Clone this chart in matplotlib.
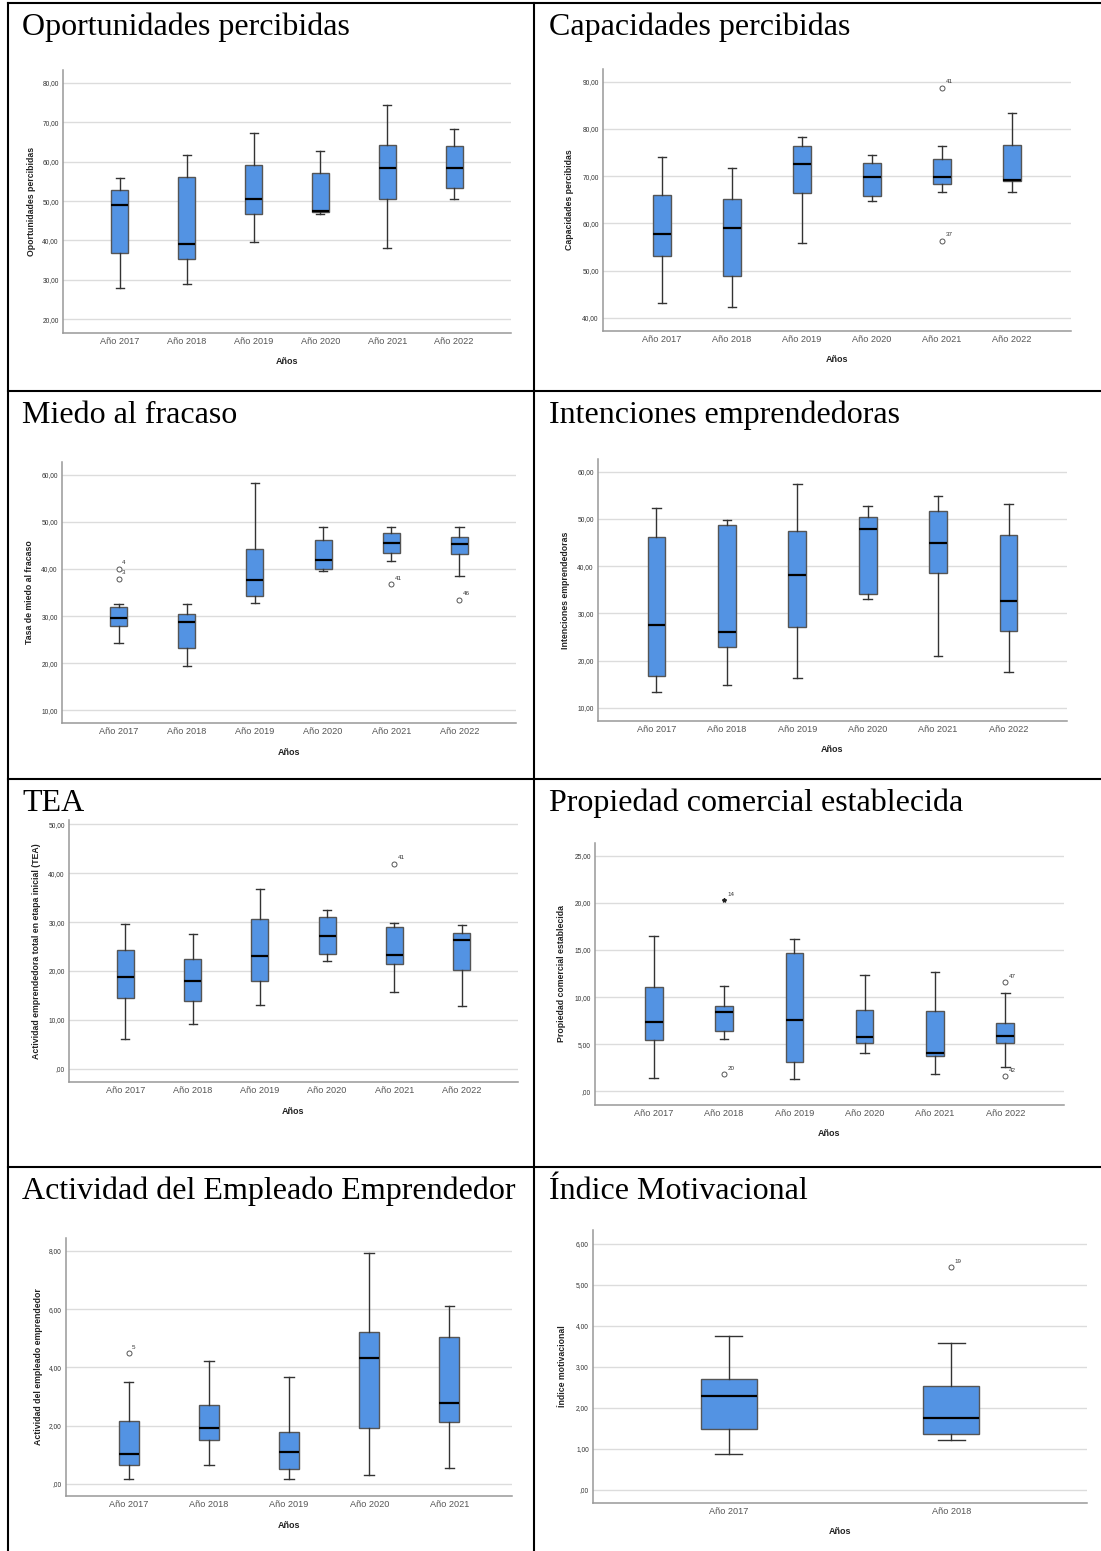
import numpy as np
import matplotlib
matplotlib.use("Agg")
import matplotlib.pyplot as plt
from matplotlib.ticker import FuncFormatter

plt.rcParams['font.family'] = ['Liberation Sans', 'DejaVu Sans']

W, H = 1101, 1551

years6 = ["Año 2017", "Año 2018", "Año 2019", "Año 2020", "Año 2021", "Año 2022"]
years5 = years6[:5]
years2 = years6[:2]

# Oportunidades percibidas
op_low = [28.0, 28.9, 39.5, 46.8, 38.1, 50.6]
op_q1 = [36.8, 35.2, 46.6, 47.2, 50.6, 53.4]
op_med = [48.9, 39.0, 50.6, 47.6, 58.5, 58.3]
op_q3 = [52.8, 56.0, 59.2, 57.2, 64.3, 64.1]
op_high = [55.8, 61.7, 67.3, 62.7, 74.5, 68.2]
op_out = []

# Capacidades percibidas
cap_low = [43.1, 42.2, 55.8, 64.8, 66.7, 66.6]
cap_q1 = [53.1, 48.8, 66.4, 65.7, 68.3, 68.9]
cap_med = [57.7, 59.0, 72.6, 69.8, 69.8, 69.2]
cap_q3 = [66.0, 65.1, 76.4, 72.7, 73.6, 76.6]
cap_high = [74.1, 71.8, 78.3, 74.4, 76.3, 83.3]
cap_out = [(5, 88.7, "41", "o"), (5, 56.3, "37", "o")]

# Miedo al fracaso
mie_low = [24.2, 19.4, 32.8, 39.6, 41.6, 38.6]
mie_q1 = [27.9, 23.2, 34.3, 40.0, 43.4, 43.2]
mie_med = [29.5, 28.7, 37.7, 41.9, 45.6, 45.3]
mie_q3 = [31.9, 30.5, 44.3, 46.2, 47.6, 46.7]
mie_high = [32.5, 32.6, 58.2, 48.9, 48.8, 49.0]
mie_out = [(1, 40.0, "4", "o"), (1, 37.9, "3", "o"), (5, 36.7, "41", "o"), (6, 33.5, "46", "o")]

# Intenciones emprendedoras
int_low = [13.3, 14.9, 16.3, 33.1, 20.9, 17.6]
int_q1 = [16.8, 22.9, 27.2, 34.0, 38.6, 26.3]
int_med = [27.5, 26.1, 38.1, 47.9, 44.9, 32.7]
int_q3 = [46.1, 48.7, 47.4, 50.5, 51.7, 46.5]
int_high = [52.4, 49.7, 57.5, 52.7, 54.8, 53.1]
int_out = []

# TEA
tea_low = [6.0, 9.2, 13.1, 22.0, 15.7, 12.9]
tea_q1 = [14.5, 13.9, 17.9, 23.4, 21.5, 20.1]
tea_med = [18.7, 17.9, 23.0, 27.2, 23.2, 26.3]
tea_q3 = [24.2, 22.4, 30.6, 31.1, 29.0, 27.8]
tea_high = [29.7, 27.6, 36.7, 32.4, 29.9, 29.4]
tea_out = [(5, 41.9, "41", "o")]

# Propiedad comercial establecida
pro_low = [1.4, 5.6, 1.3, 4.1, 1.8, 2.6]
pro_q1 = [5.5, 6.4, 3.1, 5.1, 3.8, 5.1]
pro_med = [7.4, 8.4, 7.6, 5.75, 4.1, 5.9]
pro_q3 = [11.1, 9.1, 14.7, 8.65, 8.5, 7.3]
pro_high = [16.5, 11.2, 16.2, 12.3, 12.7, 10.4]
pro_out = [(2, 20.3, "14", "*"), (2, 1.8, "20", "o"), (6, 11.6, "47", "o"), (6, 1.6, "42", "o")]

# Actividad del Empleado Emprendedor
emp_low = [0.16, 0.66, 0.16, 0.30, 0.55]
emp_q1 = [0.66, 1.50, 0.51, 1.90, 2.13]
emp_med = [1.01, 1.90, 1.10, 4.31, 2.78]
emp_q3 = [2.16, 2.72, 1.77, 5.20, 5.05]
emp_high = [3.48, 4.21, 3.66, 7.91, 6.12]
emp_out = [(1, 4.48, "5", "o")]

# Indice motivacional
mot_low = [0.87, 1.22]
mot_q1 = [1.48, 1.35]
mot_med = [2.29, 1.74]
mot_q3 = [2.70, 2.53]
mot_high = [3.74, 3.57]
mot_out = [(2, 5.42, "19", "o")]

BLUE = "#5393E3"


def fmt(v, pos):
    s = f"{v:.2f}".replace(".", ",")
    return s[1:] if s.startswith("0,") else s


fig = plt.figure(figsize=(W / 100, H / 100), dpi=100)

# table frame and cell titles
bg = fig.add_axes([0, 0, 1, 1])
bg.set_xlim(0, W)
bg.set_ylim(H, 0)
bg.axis('off')
lw = 1.5
bg.plot([8, 8], [3, H], color='black', lw=lw)
bg.plot([534, 534], [3, H], color='black', lw=lw)
for y in [3, 391, 779, 1167]:
    bg.plot([8, W], [y, y], color='black', lw=lw)

titles = [("Oportunidades percibidas", 22, 35), ("Capacidades percibidas", 549, 35),
          ("Miedo al fracaso", 22, 423), ("Intenciones emprendedoras", 549, 423),
          ("TEA", 22, 811), ("Propiedad comercial establecida", 549, 811),
          ("Actividad del Empleado Emprendedor", 22, 1199), ("Índice Motivacional", 549, 1199)]
for txt, x, y in titles:
    bg.text(x, y, txt, family='Liberation Serif', fontsize=23, va='baseline', ha='left')


def panel(box, cats, low, q1, med, q3, high, outs, ticks, ylim, ylabel, margin, ylab_x):
    l, t, r, b = box
    ax = fig.add_axes([l / W, 1 - b / H, (r - l) / W, (b - t) / H])
    stats = [dict(whislo=a, q1=c, med=m, q3=d, whishi=e)
             for a, c, m, d, e in zip(low, q1, med, q3, high)]
    pos = np.arange(1, len(cats) + 1)
    ax.bxp(stats, positions=pos, widths=0.25, capwidths=0.12, patch_artist=True,
           showfliers=False,
           boxprops=dict(facecolor=BLUE, edgecolor='#555555', linewidth=1.0),
           medianprops=dict(color='black', linewidth=1.6),
           whiskerprops=dict(color='#333333', linewidth=1.0),
           capprops=dict(color='#333333', linewidth=1.0))
    for i, v, lab, kind in outs:
        if kind == "*":
            ax.plot(i, v, marker='*', ms=3, color='#222222', ls='none')
        else:
            ax.plot(i, v, marker='o', ms=3.6, mfc='white', mec='#555555', mew=0.7, ls='none')
        ax.annotate(lab, (i, v), xytext=(2.5, 2.5), textcoords='offset points',
                    fontsize=4.5, color='#333333', va='bottom', ha='left')
    ax.set_xlim(1 - margin, len(cats) + margin)
    ax.set_ylim(ylim)
    ax.set_yticks(ticks)
    ax.yaxis.set_major_formatter(FuncFormatter(fmt))
    ax.set_xticks(pos, cats)
    ax.grid(axis='y', color='#dcdcdc', lw=1.0)
    ax.set_axisbelow(True)
    ax.set_facecolor('none')
    for s in ['top', 'right']:
        ax.spines[s].set_visible(False)
    for s in ['left', 'bottom']:
        ax.spines[s].set_color('#999999')
        ax.spines[s].set_linewidth(1.1)
    ax.tick_params(axis='y', length=0, pad=3, labelsize=4.8, labelcolor='#333333')
    ax.tick_params(axis='x', length=0, pad=3.2, labelsize=6.6, labelcolor='#555555')
    ax.set_xlabel("Años", fontsize=6.5, fontweight='bold', color='#222222')
    ax.xaxis.set_label_coords(0.5, -29 / (b - t))
    ax.xaxis.label.set_va('center')
    ax.set_ylabel(ylabel, fontsize=6.3, fontweight='bold', color='#222222')
    ax.yaxis.set_label_coords((ylab_x - l) / (r - l), 0.5)
    ax.yaxis.label.set_va('center')
    return ax


panel((63, 70, 511, 333), years6, op_low, op_q1, op_med, op_q3, op_high, op_out,
      np.arange(20, 81, 10), (16.5, 83.3), "Oportunidades percibidas", 0.85, 31.7)
panel((603, 69, 1071, 331), years6, cap_low, cap_q1, cap_med, cap_q3, cap_high, cap_out,
      np.arange(40, 91, 10), (37.2, 92.7), "Capacidades percibidas", 0.84, 569.6)
panel((62, 462, 516, 723), years6, mie_low, mie_q1, mie_med, mie_q3, mie_high, mie_out,
      np.arange(10, 61, 10), (7.3, 62.7), "Tasa de miedo al fracaso", 0.83, 29.3)
panel((598, 459, 1067, 721), years6, int_low, int_q1, int_med, int_q3, int_high, int_out,
      np.arange(10, 61, 10), (7.2, 62.7), "Intenciones emprendedoras", 0.83, 565)
panel((69, 820, 518, 1082), years6, tea_low, tea_q1, tea_med, tea_q3, tea_high, tea_out,
      np.arange(0, 51, 10), (-2.75, 50.9), "Actividad emprendedora total en etapa inicial (TEA)", 0.84, 36.7)
panel((595, 843, 1064, 1105), years6, pro_low, pro_q1, pro_med, pro_q3, pro_high, pro_out,
      np.arange(0, 26, 5), (-1.45, 26.35), "Propiedad comercial establecida", 0.835, 561.5)
panel((66, 1238, 512, 1496), years5, emp_low, emp_q1, emp_med, emp_q3, emp_high, emp_out,
      np.arange(0, 9, 2), (-0.42, 8.44), "Actividad del empleado emprendedor", 0.78, 38.3)
panel((593, 1230, 1087, 1503), years2, mot_low, mot_q1, mot_med, mot_q3, mot_high, mot_out,
      np.arange(0, 7, 1), (-0.32, 6.33), "Índice motivacional", 0.61, 562.5)

fig.savefig("out.png", dpi=100)
